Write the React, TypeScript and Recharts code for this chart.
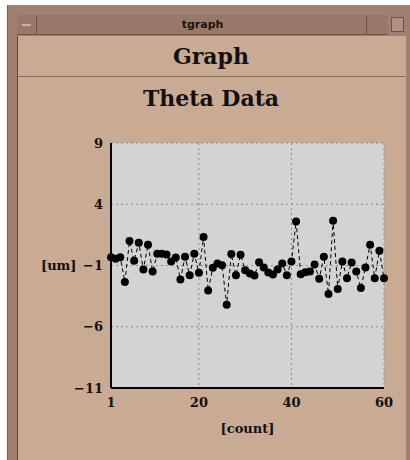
import React from "react";
import {
  CartesianGrid,
  Label,
  Line,
  LineChart,
  XAxis,
  YAxis,
} from "recharts";

const counts = [
  1, 2, 3, 4, 5, 6, 7, 8, 9, 10, 11, 12, 13, 14, 15, 16, 17, 18, 19, 20, 21,
  22, 23, 24, 25, 26, 27, 28, 29, 30, 31, 32, 33, 34, 35, 36, 37, 38, 39, 40,
  41, 42, 43, 44, 45, 46, 47, 48, 49, 50, 51, 52, 53, 54, 55, 56, 57, 58, 59,
  60,
];
const theta = [
  -0.32, -0.45, -0.32, -2.34, 0.99, -0.61, 0.86, -1.33, 0.7, -1.49, -0.04,
  -0.04, -0.1, -0.67, -0.34, -2.15, -0.29, -1.79, -0.04, -1.6, 1.32, -3.05,
  -1.19, -0.84, -0.98, -4.2, -0.07, -1.79, -0.12, -1.38, -1.66, -1.82, -0.73,
  -1.16, -1.57, -1.74, -1.33, -0.84, -1.79, -0.67, 2.6, -1.71, -1.55, -1.49,
  -0.92, -2.09, -0.29, -3.32, 2.66, -2.91, -0.67, -2.04, -0.75, -1.49, -2.83,
  -1.16, 0.7, -2.04, 0.2, -2.04,
];
const xTicks = [1, 20, 40, 60];
const yTicks = [-11, -6, -1, 4, 9];

const data = counts.map((c, i) => ({ count: c, theta: theta[i] }));

const serif = "'DejaVu Serif', 'Liberation Serif', serif";
const tickStyle = {
  fontFamily: serif,
  fontWeight: 700,
  fontSize: 13,
  fill: "#111",
};
const labelStyle = {
  fontFamily: serif,
  fontWeight: 700,
  fontSize: 13,
  fill: "#111",
};
const minus = (v: number) => String(v).replace("-", "\u2212");

const App = () => {
  return (
    <div
      style={{
        position: "fixed",
        left: 0,
        top: 0,
        width: 410,
        height: 460,
        background: "#fff",
        overflow: "hidden",
      }}
    >
      {/* window frame */}
      <div
        style={{
          position: "absolute",
          left: 7,
          top: 5,
          right: 0,
          bottom: 0,
          background: "#a08070",
          borderLeft: "1px solid #7a5c4e",
        }}
      />
      {/* title bar */}
      <div
        style={{
          position: "absolute",
          left: 17,
          top: 15,
          width: 371,
          height: 20,
          background: "#9a7868",
          borderBottom: "1px solid #6e5244",
          boxSizing: "border-box",
          textAlign: "center",
          fontFamily: "'DejaVu Sans', sans-serif",
          fontWeight: 700,
          fontSize: 11,
          lineHeight: "19px",
          color: "#1c1410",
        }}
      >
        tgraph
      </div>
      <div
        style={{
          position: "absolute",
          left: 17,
          top: 15,
          width: 20,
          height: 20,
          borderRight: "1px solid #6e5244",
          boxSizing: "border-box",
        }}
      >
        <div
          style={{
            position: "absolute",
            left: 5,
            top: 9,
            width: 9,
            height: 2,
            background: "#c8b0a2",
          }}
        />
      </div>
      <div
        style={{
          position: "absolute",
          left: 366,
          top: 15,
          width: 22,
          height: 20,
          borderLeft: "1px solid #6e5244",
          boxSizing: "border-box",
        }}
      />
      <div
        style={{
          position: "absolute",
          left: 391,
          top: 17,
          width: 13,
          height: 15,
          border: "1px solid #6e5244",
          background: "#b09080",
          boxSizing: "border-box",
        }}
      />
      {/* body */}
      <div
        style={{
          position: "absolute",
          left: 17,
          top: 36,
          width: 388,
          bottom: 0,
          background: "#c9aa92",
          borderLeft: "1px solid #5e4236",
        }}
      />
      <div
        style={{
          position: "absolute",
          left: 17,
          top: 43,
          width: 388,
          textAlign: "center",
          fontFamily: serif,
          fontWeight: 700,
          fontSize: 22,
          color: "#111",
        }}
      >
        Graph
      </div>
      <div
        style={{
          position: "absolute",
          left: 18,
          top: 76,
          width: 387,
          height: 1,
          background: "#8a6a5a",
        }}
      />
      <div
        style={{
          position: "absolute",
          left: 17,
          top: 85,
          width: 388,
          textAlign: "center",
          fontFamily: serif,
          fontWeight: 700,
          fontSize: 22,
          color: "#111",
        }}
      >
        Theta Data
      </div>
      <div style={{ position: "absolute", left: 0, top: 0 }}>
        <LineChart
          width={410}
          height={460}
          data={data}
          margin={{ top: 143, right: 26, bottom: 22, left: 31 }}
        >
          <CartesianGrid
            fill="#d3d3d3"
            stroke="#8a8a8a"
            strokeDasharray="2 3"
          />
          <XAxis
            dataKey="count"
            type="number"
            domain={[1, 60]}
            ticks={xTicks}
            tickLine={false}
            tickSize={8}
            axisLine={{ stroke: "#000", strokeWidth: 2 }}
            tick={tickStyle}
            height={50}
          >
            <Label
              value="[count]"
              position="insideBottom"
              offset={5}
              style={labelStyle}
            />
          </XAxis>
          <YAxis
            type="number"
            domain={[-11, 9]}
            ticks={yTicks}
            tickFormatter={minus}
            tickLine={false}
            tickSize={6}
            axisLine={{ stroke: "#000", strokeWidth: 2 }}
            tick={tickStyle}
            width={80}
          >
            <Label
              value="[um]"
              position="insideLeft"
              offset={10}
              style={{ ...labelStyle, textAnchor: "start" }}
            />
          </YAxis>
          <Line
            type="linear"
            dataKey="theta"
            stroke="#000"
            strokeWidth={1}
            strokeDasharray="4 3"
            dot={{ r: 4, fill: "#000", stroke: "#000", strokeWidth: 0 }}
            isAnimationActive={false}
          />
        </LineChart>
      </div>
    </div>
  );
};

export default App;
